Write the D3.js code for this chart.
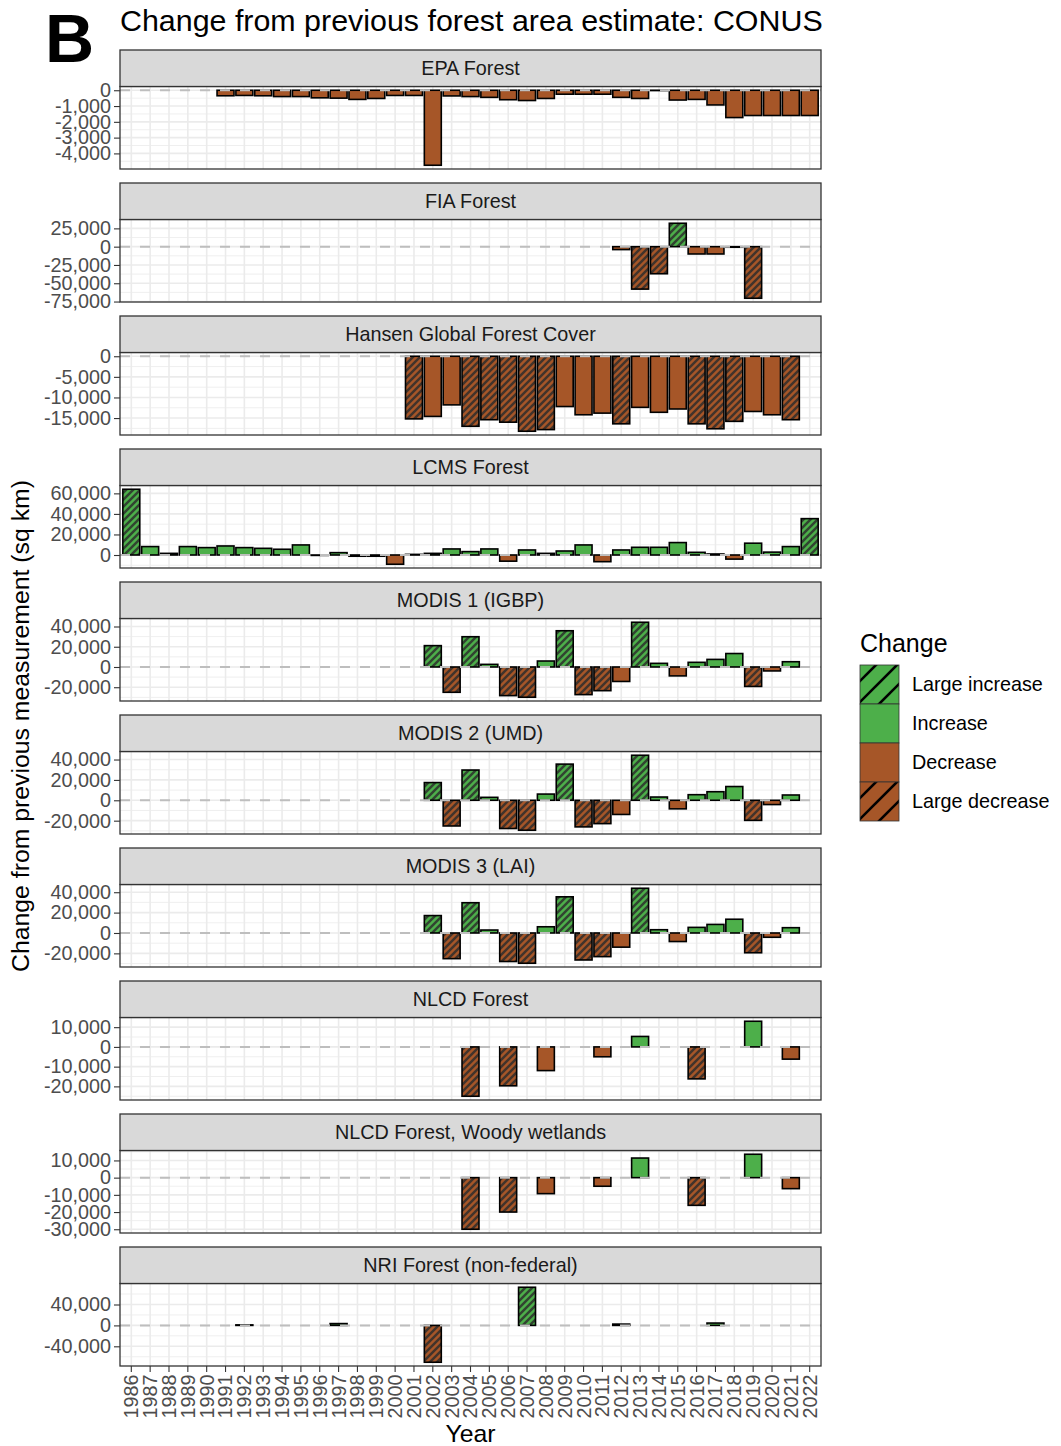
<!DOCTYPE html>
<html><head><meta charset="utf-8">
<script src="https://cdn.jsdelivr.net/npm/d3@7"></script>
<style>
body{margin:0;background:#fff}
svg{display:block;font-family:"Liberation Sans",Arial,Helvetica,sans-serif}
</style>
</head><body>
<svg id="chart" width="1061" height="1446"></svg>
<script>
// ---------------- DATA ----------------
const years = ["1986","1987","1988","1989","1990","1991","1992","1993","1994","1995","1996","1997","1998","1999","2000","2001","2002","2003","2004","2005","2006","2007","2008","2009","2010","2011","2012","2013","2014","2015","2016","2017","2018","2019","2020","2021","2022"];

const panelNames = ["EPA Forest","FIA Forest","Hansen Global Forest Cover","LCMS Forest","MODIS 1 (IGBP)","MODIS 2 (UMD)","MODIS 3 (LAI)","NLCD Forest","NLCD Forest, Woody wetlands","NRI Forest (non-federal)"];

const epaYears = d3.range(1991, 2023);
const epaValues = [-350,-330,-350,-400,-400,-480,-500,-580,-520,-330,-330,-4750,-360,-400,-450,-600,-650,-520,-250,-250,-250,-450,-520,-20,-620,-580,-930,-1730,-1600,-1600,-1600,-1600];
const epaLarge = [];
const epaTicks = [0,-1000,-2000,-3000,-4000];

const fiaYears = [2012,2013,2014,2015,2016,2017,2018,2019];
const fiaValues = [-4000,-58000,-37000,32000,-10000,-10000,-800,-70500];
const fiaLarge = [2013,2014,2015,2019];
const fiaTicks = [25000,0,-25000,-50000,-75000];

const hansenYears = d3.range(2001, 2022);
const hansenValues = [-15200,-14600,-11800,-17000,-15400,-16000,-18200,-17800,-12200,-14200,-13800,-16400,-12400,-13600,-12800,-16400,-17600,-15800,-13400,-14200,-15400];
const hansenLarge = [2001,2004,2005,2006,2007,2008,2012,2016,2017,2018,2021];
const hansenTicks = [0,-5000,-10000,-15000];

const lcmsYears = d3.range(1986, 2023);
const lcmsValues = [64000,8200,1600,8200,7200,8800,7200,6500,5600,9800,-400,2300,-1200,-1200,-9000,600,1600,5900,3300,5900,-6000,4900,1600,3900,9800,-6500,4900,7500,7500,12100,2600,1000,-4000,11500,2800,8200,35400];
const lcmsLarge = [1986,2022];
const lcmsTicks = [60000,40000,20000,0];

const modisYears = d3.range(2002, 2022);
const modis1Values = [21100,-25000,29900,2600,-28300,-29900,5900,35800,-27300,-23400,-14300,44200,3600,-8800,4600,7500,13300,-19200,-3900,5200];
const modis2Values = [17400,-25200,29700,2900,-27700,-29400,6100,35500,-26100,-22900,-13900,44200,3200,-8400,5500,8400,13500,-19700,-4200,5200];
const modis3Values = [17100,-25200,29700,2900,-28000,-29700,6100,35500,-26500,-23200,-13900,43900,3200,-8400,5500,8400,13500,-19400,-4200,5200];
const modisLarge = [2002,2003,2004,2006,2007,2009,2010,2011,2013,2019];
const modisTicks = [40000,20000,0,-20000];

const nlcdYears = [2004,2006,2008,2011,2013,2016,2019,2021];
const nlcdValues = [-25000,-19700,-12000,-5000,5300,-16200,13000,-6200];
const nlcdLarge = [2004,2006,2016];
const nlcdTicks = [10000,0,-10000,-20000];

const woodyValues = [-30000,-20000,-9300,-5000,11400,-16100,13600,-6400];
const woodyTicks = [10000,0,-10000,-20000,-30000];

const nriYears = [1992,1997,2002,2007,2012,2017];
const nriValues = [1000,3500,-70500,73000,2500,4500];
const nriLarge = [2002,2007];
const nriTicks = [40000,0,-40000];

const legendLabels = ["Large increase","Increase","Decrease","Large decrease"];
const colorIncrease = "#4DAF4A", colorDecrease = "#A65628";

// ---------------- BUILD ----------------
const panels = [
  [epaYears, epaValues, epaLarge, epaTicks],
  [fiaYears, fiaValues, fiaLarge, fiaTicks],
  [hansenYears, hansenValues, hansenLarge, hansenTicks],
  [lcmsYears, lcmsValues, lcmsLarge, lcmsTicks],
  [modisYears, modis1Values, modisLarge, modisTicks],
  [modisYears, modis2Values, modisLarge, modisTicks],
  [modisYears, modis3Values, modisLarge, modisTicks],
  [nlcdYears, nlcdValues, nlcdLarge, nlcdTicks],
  [nlcdYears, woodyValues, nlcdLarge, woodyTicks],
  [nriYears, nriValues, nriLarge, nriTicks]
].map((p, k) => ({
  name: panelNames[k],
  ticks: p[3],
  data: p[0].map((yr, i) => {
    const v = p[1][i];
    const large = p[2].includes(yr);
    const cls = v >= 0 ? (large ? "Large increase" : "Increase") : (large ? "Large decrease" : "Decrease");
    return {year: String(yr), value: v, cls};
  })
}));

const svg = d3.select("#chart");
const px0 = 120, px1 = 821;
const top0 = 50, pitch = 133, stripH = 36.5, panelH = 82.5;
const tickFont = 19.8, stripFont = 19.8;

// patterns
const defs = svg.append("defs");
function hatch(id, color) {
  const p = defs.append("pattern").attr("id", id).attr("patternUnits", "userSpaceOnUse")
    .attr("width", 7).attr("height", 7);
  p.append("rect").attr("width", 7).attr("height", 7).attr("fill", color);
  p.append("path").attr("d", "M0,7 L7,0 M-1,1 L1,-1 M6,8 L8,6")
    .attr("stroke", "#2b2b2b").attr("stroke-opacity", 0.82).attr("stroke-width", 2.5);
}
hatch("hGreen", colorIncrease);
hatch("hBrown", colorDecrease);
const fillFor = {
  "Large increase": "url(#hGreen)", "Increase": colorIncrease,
  "Decrease": colorDecrease, "Large decrease": "url(#hBrown)"
};

const x = d3.scaleBand().domain(years).range([px0, px1]).paddingInner(0.1).paddingOuter(0.15);
const fmt = d => d3.format(",")(d).replace("\u2212", "-");

panels.forEach((P, k) => {
  const sTop = top0 + k * pitch;
  const pTop = sTop + stripH, pBot = pTop + panelH;
  const lo = Math.min(0, d3.min(P.data, d => d.value));
  const hi = Math.max(0, d3.max(P.data, d => d.value));
  const r = hi - lo;
  const y = d3.scaleLinear().domain([lo - 0.05 * r, hi + 0.05 * r]).range([pBot, pTop]);
  const g = svg.append("g");

  g.append("rect").attr("x", px0).attr("y", pTop).attr("width", px1 - px0).attr("height", panelH).attr("fill", "#fff");

  // minor grid
  const t = P.ticks.slice().sort((a, b) => a - b);
  const step = t[1] - t[0];
  const minors = [];
  for (let i = 0; i <= t.length; i++) {
    const m = (i < t.length ? t[i] : t[t.length - 1] + step) - step / 2;
    const [d0, d1] = y.domain();
    if (m >= d0 && m <= d1) minors.push(m);
  }
  g.append("g").selectAll("line").data(minors).join("line")
    .attr("x1", px0).attr("x2", px1).attr("y1", d => y(d)).attr("y2", d => y(d))
    .attr("stroke", "#EBEBEB").attr("stroke-width", 0.8);
  g.append("g").selectAll("line").data(P.ticks).join("line")
    .attr("x1", px0).attr("x2", px1).attr("y1", d => y(d)).attr("y2", d => y(d))
    .attr("stroke", "#EBEBEB").attr("stroke-width", 1.6);
  g.append("g").selectAll("line").data(years).join("line")
    .attr("y1", pTop).attr("y2", pBot).attr("x1", d => x(d) + x.bandwidth() / 2).attr("x2", d => x(d) + x.bandwidth() / 2)
    .attr("stroke", "#EBEBEB").attr("stroke-width", 1.6);

  // bars
  g.append("g").selectAll("rect").data(P.data).join("rect")
    .attr("x", d => x(d.year))
    .attr("width", x.bandwidth())
    .attr("y", d => y(Math.max(0, d.value)))
    .attr("height", d => Math.abs(y(d.value) - y(0)))
    .attr("fill", d => fillFor[d.cls])
    .attr("stroke", "#000").attr("stroke-width", 1.6);

  // zero line
  g.append("line").attr("x1", px0).attr("x2", px1).attr("y1", y(0)).attr("y2", y(0))
    .attr("stroke", "#BEBEBE").attr("stroke-width", 2).attr("stroke-dasharray", "10,10");

  // border
  g.append("rect").attr("x", px0).attr("y", pTop).attr("width", px1 - px0).attr("height", panelH)
    .attr("fill", "none").attr("stroke", "#333").attr("stroke-width", 1.3);

  // strip
  g.append("rect").attr("x", px0).attr("y", sTop).attr("width", px1 - px0).attr("height", stripH)
    .attr("fill", "#D9D9D9").attr("stroke", "#333").attr("stroke-width", 1.3);
  g.append("text").attr("x", (px0 + px1) / 2).attr("y", sTop + stripH / 2).attr("dy", "0.35em")
    .attr("text-anchor", "middle").attr("font-size", stripFont).attr("fill", "#1A1A1A").text(P.name);

  // y axis
  const ax = g.append("g").attr("transform", `translate(${px0},0)`)
    .call(d3.axisLeft(y).tickValues(P.ticks).tickSize(6).tickPadding(3).tickFormat(fmt));
  ax.select(".domain").remove();
  ax.selectAll(".tick line").attr("stroke", "#333").attr("stroke-width", 1.1);
  ax.selectAll(".tick text").attr("fill", "#4D4D4D").attr("font-size", tickFont)
    .attr("font-family", '"Liberation Sans",Arial,sans-serif');

  if (k === panels.length - 1) {
    const xa = g.append("g").attr("transform", `translate(0,${pBot})`)
      .call(d3.axisBottom(x).tickSize(6).tickPadding(2.4));
    xa.select(".domain").remove();
    xa.selectAll(".tick line").attr("stroke", "#333").attr("stroke-width", 1.1);
    xa.selectAll(".tick text").attr("fill", "#4D4D4D").attr("font-size", tickFont)
      .attr("font-family", '"Liberation Sans",Arial,sans-serif')
      .attr("transform", "translate(0,8.6) rotate(-90)")
      .attr("text-anchor", "end").attr("x", 0).attr("y", 0).attr("dy", "0.35em");
  }
});

// titles
svg.append("text").attr("x", 45).attr("y", 62).attr("font-size", 68).attr("font-weight", "bold").text("B");
svg.append("text").attr("x", 120).attr("y", 31).attr("font-size", 30.4).attr("fill", "#000")
  .text("Change from previous forest area estimate: CONUS");
svg.append("text").attr("transform", "translate(29,726) rotate(-90)").attr("text-anchor", "middle")
  .attr("font-size", 24.8).text("Change from previous measurement (sq km)");
svg.append("text").attr("x", (px0 + px1) / 2).attr("y", 1442).attr("text-anchor", "middle")
  .attr("font-size", 24.8).text("Year");

// legend
const lx = 860, ly = 665, ks = 39;
svg.append("text").attr("x", lx).attr("y", 652).attr("font-size", 25).text("Change");
const clip = defs.append("clipPath").attr("id", "keyclip");
clip.append("rect").attr("width", ks).attr("height", ks);
legendLabels.forEach((lab, i) => {
  const kg = svg.append("g").attr("transform", `translate(${lx},${ly + i * ks})`);
  const base = lab.includes("ncrease") ? colorIncrease : colorDecrease;
  kg.append("rect").attr("width", ks).attr("height", ks).attr("fill", base);
  if (lab.startsWith("Large")) {
    const lg = kg.append("g").attr("clip-path", "url(#keyclip)");
    [16, 37, 58].forEach(c => {
      lg.append("line").attr("x1", c - ks - 2).attr("y1", ks + 2).attr("x2", c + 2).attr("y2", -2)
        .attr("stroke", "#000").attr("stroke-width", 2.6);
    });
  }
  kg.append("rect").attr("width", ks).attr("height", ks).attr("fill", "none")
    .attr("stroke", "#333").attr("stroke-width", 0.8);
  svg.append("text").attr("x", 912).attr("y", ly + i * ks + ks / 2).attr("dy", "0.35em")
    .attr("font-size", 19.8).attr("fill", "#000").text(lab);
});
</script>
</body></html>
